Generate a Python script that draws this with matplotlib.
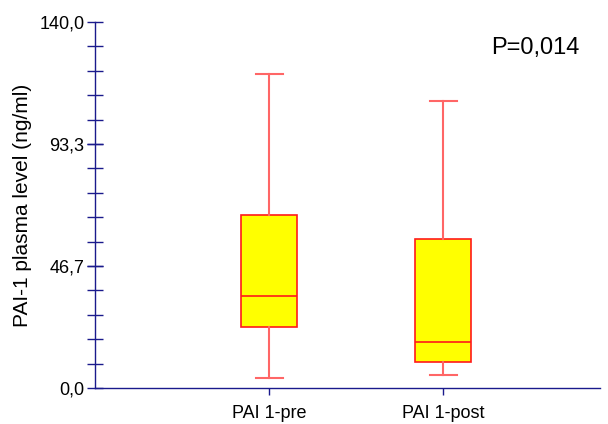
import matplotlib
matplotlib.use('Agg')
import matplotlib.pyplot as plt
from matplotlib.ticker import FixedLocator

plt.rcParams['font.family'] = ['Liberation Sans', 'DejaVu Sans']

# Box plot values (ng/ml)
groups = ['PAI 1-pre', 'PAI 1-post']
whisker_low = [3.9, 5.0]
q1 = [23.2, 9.9]
median = [35.2, 17.6]
q3 = [66.1, 56.9]
whisker_high = [120.2, 109.8]

major_ticks = [0.0, 46.7, 93.3, 140.0]
major_labels = ['0,0', '46,7', '93,3', '140,0']
p_text = 'P=0,014'

axis_col = '#1a1a8c'
box_edge = '#ff1a1a'
whisker_col = '#ff6666'

fig = plt.figure(figsize=(6.08, 4.24), dpi=100)
ax = fig.add_axes([0.156, 0.085, 0.831, 0.863])

stats = []
for i, name in enumerate(groups):
    stats.append({'label': name, 'whislo': whisker_low[i], 'q1': q1[i],
                  'med': median[i], 'q3': q3[i], 'whishi': whisker_high[i],
                  'fliers': []})

ax.bxp(stats, positions=[1, 2], widths=0.32, patch_artist=True,
       showfliers=False,
       boxprops=dict(facecolor='#ffff00', edgecolor=box_edge, linewidth=1.2),
       medianprops=dict(color=box_edge, linewidth=1.2),
       whiskerprops=dict(color=whisker_col, linewidth=1.5),
       capprops=dict(color=whisker_col, linewidth=1.5),
       capwidths=0.155)

ax.set_xlim(0, 2.9)
ax.set_ylim(0, 140)

for s in ['top', 'right']:
    ax.spines[s].set_visible(False)
for s in ['left', 'bottom']:
    ax.spines[s].set_color(axis_col)
    ax.spines[s].set_linewidth(1.0)

ax.set_yticks(major_ticks)
ax.set_yticklabels(major_labels)
ax.yaxis.set_minor_locator(FixedLocator([140 / 15 * k for k in range(16)]))
ax.tick_params(axis='y', which='both', direction='inout', length=11, width=1.0,
               color=axis_col, labelsize=13, pad=2)
ax.tick_params(axis='x', which='major', direction='out', length=5, width=1.0,
               color=axis_col, labelsize=13, pad=7)
ax.set_xticks([1, 2])
ax.set_xticklabels(groups)

ax.set_ylabel('PAI-1 plasma level (ng/ml)', fontsize=15, labelpad=5)
ax.text(0.96, 0.93, p_text, transform=ax.transAxes, fontsize=17,
        ha='right', va='center')

fig.savefig('out.png', dpi=100)
